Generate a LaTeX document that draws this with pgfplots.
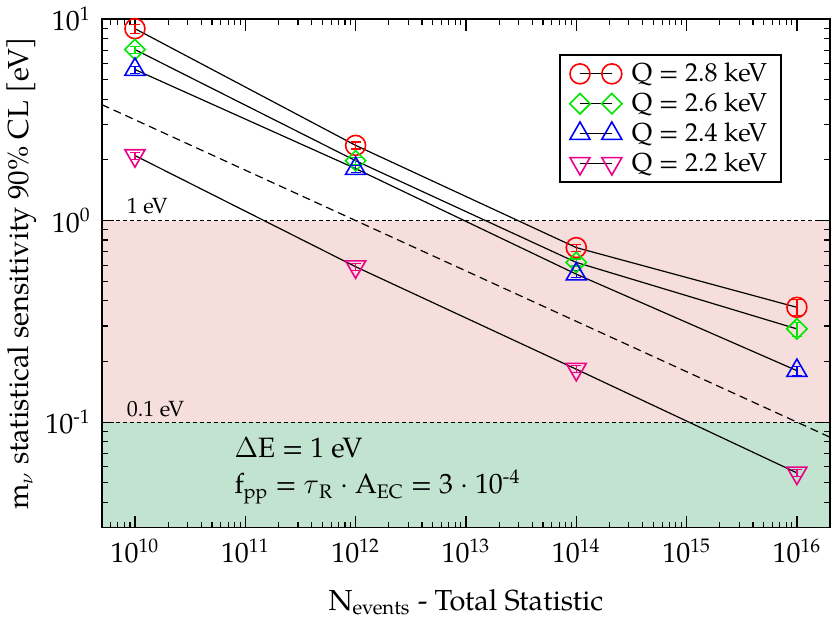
\documentclass[border=0pt]{standalone}
\usepackage{fontspec}
\setmainfont{TeX Gyre Pagella}
\usepackage{pgfplots}
\pgfplotsset{compat=1.18}
\definecolor{bandpink}{RGB}{245,222,220}
\definecolor{bandgreen}{RGB}{193,227,208}
\definecolor{qgreen}{RGB}{0,230,0}

\begin{document}
\begin{tikzpicture}
\begin{axis}[
  width=364.5pt, height=254.5pt, scale only axis,
  set layers,
  xmode=log, ymode=log,
  xmin=5e9, xmax=2e16, ymin=0.03, ymax=10,
  xtick={1e10,1e11,1e12,1e13,1e14,1e15,1e16},
  xticklabels={10\textsuperscript{10},10\textsuperscript{11},10\textsuperscript{12},10\textsuperscript{13},10\textsuperscript{14},10\textsuperscript{15},10\textsuperscript{16}},
  minor xtick={6e9,7e9,8e9,9e9,
    2e10,3e10,4e10,5e10,6e10,7e10,8e10,9e10,
    2e11,3e11,4e11,5e11,6e11,7e11,8e11,9e11,
    2e12,3e12,4e12,5e12,6e12,7e12,8e12,9e12,
    2e13,3e13,4e13,5e13,6e13,7e13,8e13,9e13,
    2e14,3e14,4e14,5e14,6e14,7e14,8e14,9e14,
    2e15,3e15,4e15,5e15,6e15,7e15,8e15,9e15},
  ytick={0.1,1,10},
  yticklabels={10\textsuperscript{-1},10\textsuperscript{0},10\textsuperscript{1}},
  minor ytick={0.04,0.05,0.06,0.07,0.08,0.09,
    0.2,0.3,0.4,0.5,0.6,0.7,0.8,0.9,
    2,3,4,5,6,7,8,9},
  tick pos=both, tick align=inside,
  major tick length=6pt, minor tick length=3pt,
  tick style={black, line width=0.6pt},
  % short tick marks drawn as grid lines with a two-ended dash pattern
  xmajorgrids, xminorgrids, ymajorgrids, yminorgrids,
  x grid style={black, line width=0.6pt},
  y grid style={black, line width=0.6pt},
  major x grid style={dash pattern=on 6pt off 242.5pt on 6pt off 10pt},
  minor x grid style={dash pattern=on 3pt off 248.5pt on 3pt off 10pt},
  major y grid style={dash pattern=on 6pt off 352.5pt on 6pt off 10pt},
  minor y grid style={dash pattern=on 3pt off 358.5pt on 3pt off 10pt},
  axis line style={line width=0.9pt},
  tick label style={font=\fontsize{14}{16}\selectfont},
  xticklabel style={yshift=-2pt},
  yticklabel style={xshift=-2pt},
  label style={font=\fontsize{14.5}{17}\selectfont},
  xlabel={N\textsubscript{events} - Total Statistic},
  ylabel={m$_\nu$ statistical sensitivity 90\% CL [eV]},
  xlabel style={at={(axis description cs:0.5,-0.163)}, anchor=base},
  ylabel style={at={(axis description cs:-0.11,0.5)}, anchor=center},
  legend style={at={(axis description cs:0.934,0.931)}, anchor=north east,
    draw=black, line width=0.9pt, font=\fontsize{13}{15}\selectfont,
    row sep=0pt, inner xsep=5pt, inner ysep=2pt, cells={anchor=west},
    /tikz/every odd column/.append style={column sep=3pt}},
  legend image code/.code={%
    \draw[#1] plot coordinates {(0cm,0cm) (0.56cm,0cm)};},
]
% bands
\addplot[draw=none, fill=bandpink, forget plot, on layer=axis background] coordinates {(5e9,0.1) (2e16,0.1) (2e16,1) (5e9,1)} -- cycle;
\addplot[draw=none, fill=bandgreen, forget plot, on layer=axis background] coordinates {(5e9,0.03) (2e16,0.03) (2e16,0.1) (5e9,0.1)} -- cycle;
\addplot[black, line width=0.6pt, dash pattern=on 2pt off 1.5pt, forget plot] coordinates {(5e9,1) (2e16,1)};
\addplot[black, line width=0.6pt, dash pattern=on 2pt off 1.5pt, forget plot] coordinates {(5e9,0.1) (2e16,0.1)};
% N^-1/4 reference line
\addplot[black, line width=0.6pt, dash pattern=on 4pt off 2.5pt, forget plot] coordinates {(5e9,3.76) (2e16,0.0841)};

\addplot[black, line width=0.6pt, mark=o, mark size=5pt,
  mark options={red, solid, line width=0.8pt},
  error bars/.cd, y dir=both, y explicit relative,
  error bar style={red, line width=0.6pt},
  error mark options={red, mark size=2.5pt, rotate=90, line width=0.6pt}]
  coordinates {(1e10,8.95) +- (0,0.05) (1e12,2.36) +- (0,0.04) (1e14,0.734) +- (0,0.04) (1e16,0.371) +- (0,0.09)};
\addlegendentry{Q = 2.8 keV}
\addplot[black, line width=0.6pt, mark=square, mark size=3.6pt,
  mark options={qgreen, solid, rotate=45, line width=0.8pt},
  error bars/.cd, y dir=both, y explicit relative,
  error bar style={qgreen, line width=0.6pt},
  error mark options={qgreen, mark size=2.5pt, rotate=90, line width=0.6pt}]
  coordinates {(1e10,7.05) +- (0,0.04) (1e12,1.98) +- (0,0.04) (1e14,0.62) +- (0,0.04) (1e16,0.29) +- (0,0.08)};
\addlegendentry{Q = 2.6 keV}
\addplot[black, line width=0.6pt, mark=triangle, mark size=5.8pt,
  mark options={blue, solid, line width=0.8pt},
  error bars/.cd, y dir=both, y explicit relative,
  error bar style={blue, line width=0.6pt},
  error mark options={blue, mark size=2.5pt, rotate=90, line width=0.6pt}]
  coordinates {(1e10,5.61) +- (0,0.04) (1e12,1.81) +- (0,0.04) (1e14,0.542) +- (0,0.04) (1e16,0.18) +- (0,0.05)};
\addlegendentry{Q = 2.4 keV}
\addplot[black, line width=0.6pt, mark=triangle, mark size=5.8pt,
  mark options={magenta, solid, rotate=180, line width=0.8pt},
  error bars/.cd, y dir=both, y explicit relative,
  error bar style={magenta, line width=0.6pt},
  error mark options={magenta, mark size=2.5pt, rotate=90, line width=0.6pt}]
  coordinates {(1e10,2.1) +- (0,0.04) (1e12,0.59) +- (0,0.04) (1e14,0.183) +- (0,0.04) (1e16,0.056) +- (0,0.04)};
\addlegendentry{Q = 2.2 keV}

\node[anchor=base west, font=\fontsize{11}{13}\selectfont] at (axis cs:7.3e9,1.08) {1 eV};
\node[anchor=base west, font=\fontsize{11}{13}\selectfont] at (axis cs:7.3e9,0.107) {0.1 eV};
\node[anchor=base west, font=\fontsize{14}{16}\selectfont] at (axis cs:6.9e10,0.0671) {$\Delta$E = 1 eV};
\node[anchor=base west, font=\fontsize{14}{16}\selectfont] at (axis cs:6.9e10,0.0441) {f\textsubscript{pp} = $\tau$\textsubscript{R} $\cdot$ A\textsubscript{EC} = 3 $\cdot$ 10\textsuperscript{-4}};
\end{axis}
\end{tikzpicture}
\end{document}
